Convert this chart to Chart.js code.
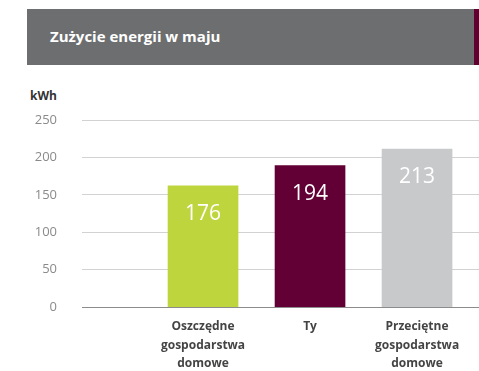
<!DOCTYPE html>
<html>
<head>
<meta charset="utf-8">
<script src="https://cdn.jsdelivr.net/npm/chart.js@4"></script>
<style>
  html, body { margin: 0; padding: 0; background: #fff; }
  body { width: 479px; height: 371px; position: relative; overflow: hidden; font-family: "Open Sans", sans-serif; }
  #header { position: absolute; left: 27px; top: 9px; width: 447px; height: 56px; background: #6d6e70; }
  #header span { position: absolute; left: 23px; top: 17px; color: #fff; font-weight: bold; font-size: 15px; }
  #strip { position: absolute; left: 474px; top: 9px; width: 5px; height: 56px; background: #5f0030; }
  #unit { position: absolute; left: 30px; top: 87px; font-weight: bold; font-size: 12px; color: #333; }
  #chart { position: absolute; left: 0; top: 0; }
</style>
</head>
<body>
<div id="header"><span>Zużycie energii w maju</span></div>
<div id="strip"></div>
<div id="unit">kWh</div>
<canvas id="chart" width="479" height="383"></canvas>
<script>
// Data
var categories = [
    ['Oszczędne', 'gospodarstwa', 'domowe'],
    ['Ty'],
    ['Przeciętne', 'gospodarstwa', 'domowe']
];
var barHeights = [162, 189, 211];     // bar heights as drawn
var valueLabels = ['176', '194', '213']; // numbers printed on the bars
var barColors = ['#bfd53d', '#620035', '#c8c9cb'];
var yTicks = [0, 50, 100, 150, 200, 250];

// Write value labels inside bars
var barLabelPlugin = {
    id: 'barLabels',
    afterDatasetsDraw: function (chart) {
        var ctx = chart.ctx;
        var meta = chart.getDatasetMeta(0);
        ctx.save();
        ctx.fillStyle = '#fff';
        ctx.font = '21px "Open Sans", sans-serif';
        ctx.textAlign = 'center';
        ctx.textBaseline = 'middle';
        meta.data.forEach(function (bar, i) {
            ctx.fillText(valueLabels[i], bar.x, bar.y + 28);
        });
        ctx.restore();
    }
};

var chart = new Chart(document.getElementById('chart').getContext('2d'), {
    type: 'bar',
    data: {
        datasets: [{
            data: barHeights.map(function (v, i) { return { x: i + 1, y: v }; }),
            backgroundColor: barColors,
            barThickness: 70
        }]
    },
    options: {
        responsive: false,
        animation: false,
        layout: { padding: { top: 120, right: 0, bottom: 0, left: 0 } },
        plugins: { legend: { display: false }, tooltip: { enabled: false } },
        scales: {
            x: {
                type: 'linear',
                offset: false,
                min: -0.131,
                max: 3.579,
                grid: { display: false, drawTicks: false, offset: false },
                border: { display: true, color: '#8c8c8c', width: 1 },
                afterBuildTicks: function (scale) {
                    scale.ticks = categories.map(function (c, i) { return { value: i + 1 }; });
                },
                ticks: {
                    padding: 10,
                    autoSkip: false,
                    maxRotation: 0,
                    color: '#444',
                    font: { family: '"Open Sans", sans-serif', size: 12, weight: 'bold', lineHeight: 1.55 },
                    callback: function (value) { return categories[value - 1] || ''; }
                }
            },
            y: {
                min: 0,
                max: 250,
                afterFit: function (scale) { scale.width = 82; },
                afterBuildTicks: function (scale) {
                    scale.ticks = yTicks.map(function (v) { return { value: v }; });
                },
                grid: { color: '#d2d2d2', drawTicks: false },
                border: { display: false },
                ticks: {
                    padding: 25,
                    color: '#8a8a8a',
                    font: { family: '"Open Sans", sans-serif', size: 13 }
                }
            }
        }
    },
    plugins: [barLabelPlugin]
});
</script>
</body>
</html>
